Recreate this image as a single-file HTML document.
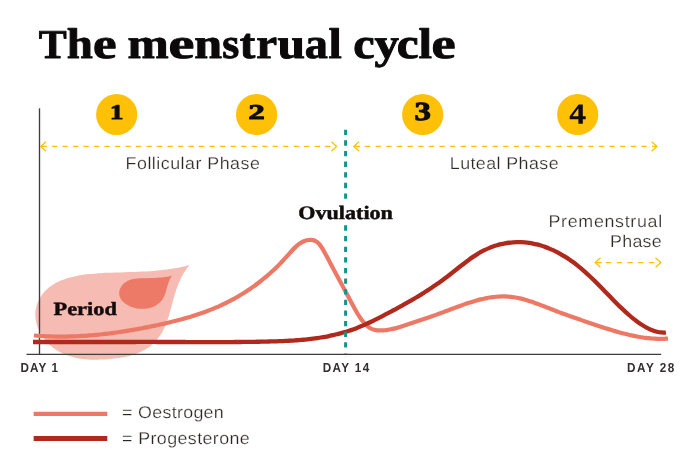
<!DOCTYPE html>
<html><head><meta charset="utf-8"><title>The menstrual cycle</title>
<style>
html,body{margin:0;padding:0;background:#fff;}
body{width:700px;height:456px;overflow:hidden;font-family:"Liberation Sans",sans-serif;}
svg{display:block;}
text{text-rendering:geometricPrecision;}
.serif{font-family:"Liberation Serif",serif;font-weight:bold;}
.sans{font-family:"Liberation Sans",sans-serif;}
</style></head><body>
<svg width="700" height="456" viewBox="0 0 700 456" style="will-change:transform;opacity:0.9999">
<rect width="700" height="456" fill="#fff"/>

<!-- title -->
<g class="serif" fill="#0b0909" stroke="#0b0909" stroke-width="0.9" stroke-linejoin="round" font-size="42.8">
<text transform="translate(38.66 57.6) scale(1.0215 1)" font-size="41">T</text>
<text transform="translate(66.85 57.6) scale(1.0957 1)">h</text>
<text transform="translate(93.06 57.6) scale(1.2406 1)">e</text>
<text transform="translate(127.43 57.6) scale(1.1565 1)">m</text>
<text transform="translate(168.54 57.6) scale(1.3623 1)">e</text>
<text transform="translate(194.22 57.6) scale(1.1692 1)">n</text>
<text transform="translate(222.33 57.6) scale(1.0230 1)">s</text>
<text transform="translate(239.63 57.6) scale(1.0877 1)">t</text>
<text transform="translate(256.28 57.6) scale(1.0986 1)">r</text>
<text transform="translate(277.41 57.6) scale(1.1604 1)">u</text>
<text transform="translate(304.72 57.6) scale(1.0815 1)">a</text>
<text transform="translate(328.54 57.6) scale(1.1182 1)">l</text>
<text transform="translate(353.27 57.6) scale(1.1257 1)">c</text>
<text transform="translate(374.50 57.6) scale(1.1395 1)">y</text>
<text transform="translate(396.65 57.6) scale(1.1486 1)">c</text>
<text transform="translate(418.53 57.6) scale(1.1364 1)">l</text>
<text transform="translate(431.53 57.6) scale(1.2696 1)">e</text>
</g>

<!-- period blobs -->
<path d="M189.50 265.00 C188.75 265.19 186.51 265.80 185.01 266.16 C183.52 266.53 182.02 266.87 180.52 267.19 C179.02 267.51 177.52 267.80 176.02 268.08 C174.52 268.36 173.01 268.61 171.51 268.85 C170.01 269.09 168.50 269.31 166.99 269.52 C165.49 269.72 163.98 269.91 162.47 270.08 C160.96 270.25 159.45 270.41 157.94 270.55 C156.43 270.70 154.92 270.83 153.40 270.95 C151.89 271.07 150.38 271.18 148.86 271.28 C147.34 271.38 145.83 271.47 144.31 271.55 C142.79 271.63 141.27 271.70 139.75 271.77 C138.23 271.84 136.71 271.90 135.19 271.96 C133.66 272.01 132.14 272.07 130.62 272.12 C129.09 272.17 127.57 272.21 126.04 272.26 C124.51 272.30 122.98 272.35 121.46 272.39 C119.93 272.44 118.40 272.49 116.87 272.53 C115.33 272.58 113.80 272.63 112.27 272.69 C110.74 272.74 109.20 272.80 107.67 272.87 C106.13 272.93 104.60 273.00 103.06 273.08 C101.52 273.16 99.98 273.25 98.45 273.34 C96.91 273.44 95.37 273.55 93.83 273.67 C92.29 273.79 90.76 273.92 89.22 274.08 C87.69 274.24 86.16 274.41 84.63 274.61 C83.11 274.82 81.59 275.04 80.08 275.29 C78.56 275.55 77.05 275.83 75.56 276.14 C74.06 276.46 72.57 276.81 71.09 277.20 C69.61 277.58 68.14 278.01 66.68 278.48 C65.22 278.95 63.77 279.46 62.35 280.02 C60.92 280.58 59.50 281.18 58.12 281.85 C56.73 282.51 55.37 283.22 54.06 284.00 C52.74 284.78 51.46 285.62 50.24 286.52 C49.01 287.43 47.83 288.41 46.72 289.45 C45.61 290.49 44.56 291.61 43.58 292.78 C42.60 293.95 41.69 295.19 40.86 296.47 C40.04 297.74 39.28 299.08 38.62 300.44 C37.96 301.80 37.38 303.21 36.91 304.64 C36.44 306.07 36.05 307.54 35.78 309.01 C35.51 310.48 35.35 311.98 35.29 313.47 C35.24 314.97 35.31 316.48 35.47 317.98 C35.63 319.48 35.91 320.98 36.26 322.47 C36.62 323.95 37.09 325.43 37.62 326.88 C38.16 328.32 38.79 329.76 39.48 331.15 C40.18 332.55 40.95 333.92 41.78 335.24 C42.61 336.56 43.52 337.85 44.47 339.08 C45.42 340.31 46.43 341.50 47.48 342.62 C48.52 343.74 49.62 344.80 50.75 345.80 C51.88 346.79 53.05 347.72 54.25 348.59 C55.45 349.46 56.69 350.27 57.95 351.02 C59.22 351.78 60.52 352.47 61.84 353.11 C63.17 353.75 64.52 354.33 65.90 354.87 C67.28 355.40 68.68 355.89 70.11 356.32 C71.53 356.76 72.98 357.15 74.45 357.49 C75.92 357.84 77.40 358.13 78.91 358.39 C80.41 358.65 81.93 358.87 83.46 359.05 C84.99 359.23 86.53 359.36 88.09 359.47 C89.64 359.58 91.21 359.65 92.78 359.69 C94.35 359.73 95.93 359.74 97.51 359.72 C99.09 359.70 100.68 359.65 102.26 359.57 C103.85 359.50 105.44 359.40 107.02 359.28 C108.61 359.16 110.19 359.02 111.77 358.86 C113.35 358.70 114.92 358.52 116.48 358.31 C118.05 358.10 119.60 357.87 121.14 357.60 C122.68 357.34 124.21 357.05 125.72 356.72 C127.22 356.39 128.72 356.03 130.19 355.63 C131.66 355.22 133.11 354.79 134.53 354.30 C135.95 353.82 137.35 353.30 138.72 352.73 C140.09 352.16 141.43 351.54 142.73 350.87 C144.04 350.20 145.31 349.48 146.55 348.71 C147.78 347.93 148.98 347.10 150.13 346.21 C151.29 345.32 152.41 344.37 153.48 343.36 C154.55 342.35 155.57 341.27 156.55 340.15 C157.53 339.02 158.46 337.84 159.34 336.61 C160.21 335.39 161.05 334.11 161.82 332.80 C162.60 331.49 163.32 330.13 163.99 328.75 C164.66 327.38 165.27 325.96 165.85 324.52 C166.43 323.09 166.95 321.63 167.46 320.15 C167.96 318.68 168.42 317.18 168.87 315.69 C169.32 314.19 169.74 312.68 170.16 311.18 C170.58 309.67 170.97 308.16 171.38 306.66 C171.79 305.16 172.18 303.67 172.59 302.18 C173.00 300.70 173.41 299.22 173.84 297.75 C174.26 296.28 174.69 294.82 175.15 293.37 C175.60 291.92 176.07 290.48 176.57 289.06 C177.06 287.63 177.58 286.22 178.13 284.82 C178.69 283.42 179.26 282.03 179.88 280.66 C180.50 279.29 181.16 277.93 181.86 276.59 C182.56 275.25 183.30 273.92 184.09 272.62 C184.89 271.31 185.73 270.02 186.63 268.75 C187.53 267.48 189.02 265.63 189.50 265.00Z" fill="#F6BBB3"/>
<path d="M172.00 275.80 C171.52 275.90 170.06 276.20 169.10 276.38 C168.14 276.55 167.19 276.70 166.25 276.85 C165.30 276.99 164.37 277.11 163.43 277.22 C162.50 277.33 161.57 277.43 160.64 277.52 C159.71 277.60 158.79 277.67 157.86 277.74 C156.94 277.80 156.01 277.86 155.08 277.90 C154.15 277.95 153.22 277.99 152.28 278.02 C151.35 278.06 150.41 278.09 149.46 278.11 C148.51 278.14 147.56 278.16 146.59 278.18 C145.63 278.19 144.65 278.21 143.67 278.23 C142.69 278.25 141.70 278.26 140.71 278.30 C139.72 278.34 138.72 278.38 137.73 278.46 C136.75 278.54 135.76 278.64 134.79 278.78 C133.83 278.92 132.87 279.10 131.94 279.33 C131.01 279.56 130.09 279.83 129.21 280.17 C128.33 280.52 127.47 280.92 126.66 281.39 C125.84 281.87 125.05 282.43 124.32 283.04 C123.60 283.66 122.91 284.35 122.30 285.08 C121.70 285.81 121.15 286.60 120.70 287.42 C120.25 288.23 119.87 289.10 119.61 289.96 C119.35 290.83 119.18 291.74 119.14 292.63 C119.10 293.52 119.18 294.43 119.36 295.30 C119.54 296.17 119.84 297.04 120.23 297.85 C120.61 298.67 121.10 299.44 121.65 300.17 C122.21 300.90 122.86 301.59 123.55 302.23 C124.25 302.87 125.02 303.47 125.83 304.02 C126.63 304.57 127.50 305.08 128.38 305.54 C129.26 306.00 130.19 306.41 131.12 306.78 C132.05 307.14 133.00 307.46 133.96 307.73 C134.92 307.99 135.90 308.22 136.88 308.39 C137.86 308.56 138.85 308.69 139.83 308.77 C140.82 308.85 141.81 308.88 142.78 308.86 C143.76 308.85 144.74 308.79 145.70 308.68 C146.66 308.57 147.62 308.41 148.55 308.21 C149.49 308.01 150.41 307.76 151.30 307.47 C152.19 307.18 153.07 306.84 153.91 306.45 C154.75 306.06 155.57 305.63 156.35 305.16 C157.13 304.68 157.87 304.16 158.58 303.59 C159.28 303.02 159.95 302.41 160.57 301.75 C161.19 301.09 161.76 300.39 162.28 299.64 C162.80 298.89 163.27 298.10 163.69 297.27 C164.11 296.44 164.48 295.56 164.82 294.66 C165.16 293.77 165.46 292.84 165.76 291.90 C166.05 290.96 166.31 290.00 166.58 289.04 C166.85 288.09 167.10 287.12 167.38 286.17 C167.66 285.21 167.93 284.26 168.24 283.33 C168.55 282.41 168.87 281.49 169.24 280.62 C169.61 279.74 170.00 278.88 170.46 278.08 C170.92 277.28 171.74 276.18 172.00 275.80Z" fill="#EC7A67"/>

<!-- axes -->
<path d="M39.5 108.3 V354.9" stroke="#403c3c" stroke-width="1.35" fill="none"/>
<path d="M26.5 354.3 H661.2" stroke="#403c3c" stroke-width="1.15" fill="none"/>

<!-- curves -->
<path d="M33.90 335.48 C34.40 335.52 35.90 335.65 36.90 335.72 C37.90 335.79 38.90 335.86 39.90 335.92 C40.90 335.99 41.90 336.05 42.90 336.10 C43.90 336.16 44.90 336.21 45.90 336.25 C46.90 336.30 47.90 336.34 48.90 336.37 C49.90 336.41 50.90 336.44 51.90 336.47 C52.90 336.49 53.90 336.52 54.90 336.53 C55.90 336.55 56.90 336.56 57.90 336.57 C58.90 336.58 59.90 336.59 60.90 336.59 C61.90 336.59 62.90 336.58 63.90 336.57 C64.90 336.57 65.90 336.55 66.90 336.54 C67.90 336.52 68.90 336.50 69.90 336.47 C70.90 336.45 71.90 336.42 72.90 336.38 C73.90 336.35 74.90 336.31 75.90 336.27 C76.90 336.23 77.90 336.18 78.90 336.13 C79.90 336.08 80.90 336.03 81.90 335.97 C82.90 335.91 83.90 335.85 84.90 335.78 C85.90 335.72 86.90 335.65 87.90 335.58 C88.90 335.50 89.90 335.43 90.90 335.35 C91.90 335.26 92.90 335.18 93.90 335.09 C94.90 335.00 95.90 334.91 96.90 334.82 C97.90 334.72 98.90 334.62 99.90 334.52 C100.90 334.42 101.90 334.31 102.90 334.20 C103.90 334.09 104.90 333.98 105.90 333.86 C106.90 333.74 107.90 333.62 108.90 333.50 C109.90 333.37 110.90 333.25 111.90 333.12 C112.90 332.99 113.90 332.85 114.90 332.72 C115.90 332.58 116.90 332.44 117.90 332.29 C118.90 332.15 119.90 332.00 120.90 331.85 C121.90 331.70 122.90 331.55 123.90 331.40 C124.90 331.24 125.90 331.08 126.90 330.92 C127.90 330.76 128.90 330.59 129.90 330.42 C130.90 330.25 131.90 330.08 132.90 329.91 C133.90 329.73 134.90 329.56 135.90 329.38 C136.90 329.20 137.90 329.02 138.90 328.83 C139.90 328.64 140.90 328.46 141.90 328.26 C142.90 328.07 143.90 327.88 144.90 327.68 C145.90 327.49 146.90 327.29 147.90 327.09 C148.90 326.88 149.90 326.68 150.90 326.47 C151.90 326.27 152.90 326.06 153.90 325.84 C154.90 325.63 155.90 325.42 156.90 325.20 C157.90 324.98 158.90 324.77 159.90 324.54 C160.90 324.32 161.90 324.10 162.90 323.87 C163.90 323.64 164.90 323.42 165.90 323.18 C166.90 322.95 167.90 322.72 168.90 322.48 C169.90 322.24 170.90 322.00 171.90 321.76 C172.90 321.52 173.90 321.27 174.90 321.02 C175.90 320.77 176.90 320.51 177.90 320.25 C178.90 319.99 179.90 319.73 180.90 319.46 C181.90 319.20 182.90 318.92 183.90 318.65 C184.90 318.37 185.90 318.09 186.90 317.80 C187.90 317.51 188.90 317.22 189.90 316.92 C190.90 316.62 191.90 316.31 192.90 316.00 C193.90 315.69 194.90 315.37 195.90 315.05 C196.90 314.73 197.90 314.40 198.90 314.06 C199.90 313.72 200.90 313.38 201.90 313.03 C202.90 312.68 203.90 312.32 204.90 311.95 C205.90 311.58 206.90 311.21 207.90 310.83 C208.90 310.45 209.90 310.06 210.90 309.66 C211.90 309.26 212.90 308.85 213.90 308.44 C214.90 308.02 215.90 307.60 216.90 307.16 C217.90 306.73 218.90 306.29 219.90 305.83 C220.90 305.38 221.90 304.92 222.90 304.45 C223.90 303.97 224.90 303.49 225.90 303.00 C226.90 302.51 227.90 302.00 228.90 301.49 C229.90 300.98 230.90 300.45 231.90 299.92 C232.90 299.38 233.90 298.83 234.90 298.28 C235.90 297.72 236.90 297.15 237.90 296.57 C238.90 295.99 239.90 295.39 240.90 294.79 C241.90 294.18 242.90 293.56 243.90 292.93 C244.90 292.30 245.90 291.66 246.90 291.00 C247.90 290.35 248.90 289.68 249.90 288.99 C250.90 288.31 251.90 287.62 252.90 286.91 C253.90 286.20 254.90 285.47 255.90 284.73 C256.90 284.00 257.90 283.24 258.90 282.48 C259.90 281.71 260.90 280.93 261.90 280.13 C262.90 279.34 263.90 278.53 264.90 277.70 C265.90 276.87 266.90 276.03 267.90 275.17 C268.90 274.31 269.90 273.43 270.90 272.54 C271.90 271.64 272.90 270.73 273.90 269.79 C274.90 268.85 275.90 267.90 276.90 266.92 C277.90 265.94 278.90 264.94 279.90 263.91 C280.90 262.89 281.90 261.84 282.90 260.76 C283.90 259.69 284.90 258.58 285.90 257.46 C286.90 256.35 287.90 255.18 288.90 254.06 C289.90 252.94 290.90 251.79 291.90 250.72 C292.90 249.65 293.90 248.59 294.90 247.63 C295.90 246.67 296.90 245.76 297.90 244.96 C298.90 244.16 299.90 243.44 300.90 242.83 C301.90 242.21 302.90 241.68 303.90 241.26 C304.90 240.83 305.90 240.49 306.90 240.26 C307.90 240.03 308.90 239.90 309.90 239.88 C310.90 239.86 311.90 239.90 312.90 240.14 C313.90 240.38 314.90 240.72 315.90 241.32 C316.90 241.93 317.90 242.69 318.90 243.76 C319.90 244.84 320.90 246.24 321.90 247.77 C322.90 249.29 323.90 251.11 324.90 252.90 C325.90 254.69 326.90 256.62 327.90 258.51 C328.90 260.40 329.90 262.33 330.90 264.22 C331.90 266.12 332.90 268.00 333.90 269.87 C334.90 271.74 335.90 273.61 336.90 275.47 C337.90 277.33 338.90 279.19 339.90 281.05 C340.90 282.91 341.90 284.77 342.90 286.63 C343.90 288.50 344.90 290.36 345.90 292.23 C346.90 294.10 347.90 295.98 348.90 297.85 C349.90 299.73 350.90 301.62 351.90 303.49 C352.90 305.36 353.90 307.27 354.90 309.07 C355.90 310.87 356.90 312.64 357.90 314.27 C358.90 315.89 359.90 317.43 360.90 318.83 C361.90 320.22 362.90 321.51 363.90 322.66 C364.90 323.81 365.90 324.84 366.90 325.72 C367.90 326.61 368.90 327.36 369.90 327.97 C370.90 328.58 371.90 329.02 372.90 329.39 C373.90 329.75 374.90 329.97 375.90 330.14 C376.90 330.32 377.90 330.38 378.90 330.43 C379.90 330.47 380.90 330.46 381.90 330.42 C382.90 330.39 383.90 330.31 384.90 330.22 C385.90 330.12 386.90 329.99 387.90 329.83 C388.90 329.68 389.90 329.50 390.90 329.30 C391.90 329.10 392.90 328.87 393.90 328.63 C394.90 328.39 395.90 328.13 396.90 327.86 C397.90 327.58 398.90 327.29 399.90 326.99 C400.90 326.69 401.90 326.38 402.90 326.06 C403.90 325.74 404.90 325.42 405.90 325.09 C406.90 324.76 407.90 324.43 408.90 324.10 C409.90 323.76 410.90 323.43 411.90 323.10 C412.90 322.76 413.90 322.43 414.90 322.10 C415.90 321.76 416.90 321.43 417.90 321.09 C418.90 320.75 419.90 320.42 420.90 320.08 C421.90 319.74 422.90 319.40 423.90 319.06 C424.90 318.72 425.90 318.37 426.90 318.03 C427.90 317.68 428.90 317.33 429.90 316.98 C430.90 316.63 431.90 316.28 432.90 315.93 C433.90 315.57 434.90 315.22 435.90 314.86 C436.90 314.50 437.90 314.14 438.90 313.77 C439.90 313.41 440.90 313.04 441.90 312.67 C442.90 312.30 443.90 311.92 444.90 311.55 C445.90 311.17 446.90 310.79 447.90 310.42 C448.90 310.04 449.90 309.66 450.90 309.28 C451.90 308.91 452.90 308.53 453.90 308.15 C454.90 307.78 455.90 307.41 456.90 307.04 C457.90 306.67 458.90 306.30 459.90 305.94 C460.90 305.58 461.90 305.22 462.90 304.87 C463.90 304.52 464.90 304.17 465.90 303.83 C466.90 303.49 467.90 303.16 468.90 302.83 C469.90 302.51 470.90 302.19 471.90 301.88 C472.90 301.57 473.90 301.27 474.90 300.98 C475.90 300.69 476.90 300.41 477.90 300.15 C478.90 299.88 479.90 299.62 480.90 299.38 C481.90 299.14 482.90 298.90 483.90 298.69 C484.90 298.47 485.90 298.26 486.90 298.07 C487.90 297.88 488.90 297.71 489.90 297.55 C490.90 297.39 491.90 297.24 492.90 297.12 C493.90 296.99 494.90 296.88 495.90 296.78 C496.90 296.69 497.90 296.61 498.90 296.56 C499.90 296.50 500.90 296.46 501.90 296.44 C502.90 296.42 503.90 296.43 504.90 296.45 C505.90 296.47 506.90 296.51 507.90 296.58 C508.90 296.64 509.90 296.73 510.90 296.84 C511.90 296.95 512.90 297.08 513.90 297.23 C514.90 297.39 515.90 297.56 516.90 297.76 C517.90 297.95 518.90 298.16 519.90 298.39 C520.90 298.62 521.90 298.87 522.90 299.13 C523.90 299.39 524.90 299.67 525.90 299.96 C526.90 300.26 527.90 300.56 528.90 300.88 C529.90 301.20 530.90 301.53 531.90 301.86 C532.90 302.20 533.90 302.55 534.90 302.91 C535.90 303.26 536.90 303.63 537.90 304.00 C538.90 304.37 539.90 304.75 540.90 305.13 C541.90 305.51 542.90 305.90 543.90 306.29 C544.90 306.68 545.90 307.07 546.90 307.46 C547.90 307.85 548.90 308.25 549.90 308.64 C550.90 309.03 551.90 309.42 552.90 309.81 C553.90 310.20 554.90 310.58 555.90 310.96 C556.90 311.34 557.90 311.72 558.90 312.10 C559.90 312.47 560.90 312.84 561.90 313.21 C562.90 313.58 563.90 313.95 564.90 314.31 C565.90 314.67 566.90 315.03 567.90 315.39 C568.90 315.75 569.90 316.11 570.90 316.46 C571.90 316.81 572.90 317.17 573.90 317.52 C574.90 317.87 575.90 318.21 576.90 318.56 C577.90 318.91 578.90 319.25 579.90 319.60 C580.90 319.94 581.90 320.29 582.90 320.63 C583.90 320.97 584.90 321.31 585.90 321.65 C586.90 321.99 587.90 322.33 588.90 322.67 C589.90 323.01 590.90 323.35 591.90 323.69 C592.90 324.03 593.90 324.36 594.90 324.70 C595.90 325.04 596.90 325.37 597.90 325.70 C598.90 326.04 599.90 326.37 600.90 326.70 C601.90 327.03 602.90 327.35 603.90 327.67 C604.90 328.00 605.90 328.32 606.90 328.63 C607.90 328.95 608.90 329.26 609.90 329.57 C610.90 329.88 611.90 330.18 612.90 330.48 C613.90 330.78 614.90 331.08 615.90 331.37 C616.90 331.66 617.90 331.94 618.90 332.22 C619.90 332.50 620.90 332.77 621.90 333.03 C622.90 333.30 623.90 333.56 624.90 333.81 C625.90 334.06 626.90 334.31 627.90 334.55 C628.90 334.78 629.90 335.01 630.90 335.23 C631.90 335.45 632.90 335.67 633.90 335.87 C634.90 336.08 635.90 336.27 636.90 336.46 C637.90 336.65 638.90 336.82 639.90 336.99 C640.90 337.16 641.90 337.31 642.90 337.46 C643.90 337.61 644.90 337.74 645.90 337.87 C646.90 337.99 647.90 338.11 648.90 338.21 C649.90 338.31 650.90 338.40 651.90 338.48 C652.90 338.56 653.90 338.62 654.90 338.68 C655.90 338.73 656.90 338.77 657.90 338.80 C658.90 338.83 659.90 338.84 660.90 338.84 C661.90 338.84 662.90 338.83 663.90 338.80 C664.90 338.77 666.22 338.70 666.90 338.67 C667.58 338.63 667.82 338.61 668.00 338.60" fill="none" stroke="#EC7966" stroke-width="4.2" stroke-linejoin="round"/>
<path d="M33.00 341.98 C33.67 341.98 35.67 341.98 37.00 341.99 C38.33 341.99 39.67 341.99 41.00 342.00 C42.33 342.00 43.67 342.00 45.00 342.00 C46.33 342.00 47.67 342.01 49.00 342.01 C50.33 342.01 51.67 342.01 53.00 342.01 C54.33 342.01 55.67 342.01 57.00 342.02 C58.33 342.02 59.67 342.02 61.00 342.02 C62.33 342.02 63.67 342.02 65.00 342.02 C66.33 342.02 67.67 342.02 69.00 342.02 C70.33 342.02 71.67 342.02 73.00 342.02 C74.33 342.02 75.67 342.02 77.00 342.02 C78.33 342.02 79.67 342.02 81.00 342.02 C82.33 342.02 83.67 342.01 85.00 342.01 C86.33 342.01 87.67 342.01 89.00 342.01 C90.33 342.01 91.67 342.01 93.00 342.01 C94.33 342.01 95.67 342.01 97.00 342.01 C98.33 342.00 99.67 342.00 101.00 342.00 C102.33 342.00 103.67 342.00 105.00 342.00 C106.33 342.00 107.67 342.00 109.00 341.99 C110.33 341.99 111.67 341.99 113.00 341.99 C114.33 341.99 115.67 341.99 117.00 341.99 C118.33 341.99 119.67 341.99 121.00 341.98 C122.33 341.98 123.67 341.98 125.00 341.98 C126.33 341.98 127.67 341.98 129.00 341.98 C130.33 341.98 131.67 341.98 133.00 341.98 C134.33 341.98 135.67 341.97 137.00 341.97 C138.33 341.97 139.67 341.97 141.00 341.97 C142.33 341.97 143.67 341.97 145.00 341.97 C146.33 341.97 147.67 341.97 149.00 341.97 C150.33 341.97 151.67 341.97 153.00 341.97 C154.33 341.97 155.67 341.97 157.00 341.98 C158.33 341.98 159.67 341.98 161.00 341.98 C162.33 341.98 163.67 341.98 165.00 341.98 C166.33 341.98 167.67 341.99 169.00 341.99 C170.33 341.99 171.67 341.99 173.00 341.99 C174.33 342.00 175.67 342.00 177.00 342.00 C178.33 342.00 179.67 342.01 181.00 342.01 C182.33 342.01 183.67 342.02 185.00 342.02 C186.33 342.02 187.67 342.03 189.00 342.03 C190.33 342.03 191.67 342.04 193.00 342.04 C194.33 342.05 195.67 342.05 197.00 342.05 C198.33 342.06 199.67 342.06 201.00 342.06 C202.33 342.07 203.67 342.07 205.00 342.07 C206.33 342.07 207.67 342.07 209.00 342.08 C210.33 342.08 211.67 342.08 213.00 342.08 C214.33 342.08 215.67 342.08 217.00 342.08 C218.33 342.08 219.67 342.08 221.00 342.08 C222.33 342.07 223.67 342.07 225.00 342.07 C226.33 342.06 227.67 342.06 229.00 342.05 C230.33 342.05 231.67 342.04 233.00 342.03 C234.33 342.03 235.67 342.02 237.00 342.01 C238.33 342.00 239.67 341.99 241.00 341.98 C242.33 341.96 243.67 341.95 245.00 341.94 C246.33 341.92 247.67 341.91 249.00 341.89 C250.33 341.87 251.67 341.85 253.00 341.83 C254.33 341.81 255.67 341.79 257.00 341.77 C258.33 341.74 259.67 341.72 261.00 341.69 C262.33 341.67 263.67 341.64 265.00 341.61 C266.33 341.58 267.67 341.55 269.00 341.51 C270.33 341.48 271.67 341.44 273.00 341.40 C274.33 341.37 275.67 341.33 277.00 341.28 C278.33 341.24 279.67 341.19 281.00 341.14 C282.33 341.09 283.67 341.03 285.00 340.97 C286.33 340.91 287.67 340.84 289.00 340.77 C290.33 340.70 291.67 340.62 293.00 340.54 C294.33 340.45 295.67 340.36 297.00 340.26 C298.33 340.17 299.67 340.06 301.00 339.94 C302.33 339.83 303.67 339.71 305.00 339.58 C306.33 339.44 307.67 339.30 309.00 339.15 C310.33 339.00 311.67 338.84 313.00 338.67 C314.33 338.49 315.67 338.31 317.00 338.12 C318.33 337.92 319.67 337.72 321.00 337.50 C322.33 337.28 323.67 337.05 325.00 336.80 C326.33 336.56 327.67 336.30 329.00 336.03 C330.33 335.75 331.67 335.47 333.00 335.17 C334.33 334.86 335.67 334.55 337.00 334.22 C338.33 333.88 339.67 333.54 341.00 333.17 C342.33 332.81 343.67 332.43 345.00 332.03 C346.33 331.63 347.67 331.21 349.00 330.78 C350.33 330.34 351.67 329.89 353.00 329.42 C354.33 328.94 355.67 328.45 357.00 327.94 C358.33 327.43 359.67 326.90 361.00 326.35 C362.33 325.79 363.67 325.22 365.00 324.63 C366.33 324.03 367.67 323.42 369.00 322.79 C370.33 322.16 371.67 321.52 373.00 320.86 C374.33 320.20 375.67 319.53 377.00 318.86 C378.33 318.18 379.67 317.49 381.00 316.80 C382.33 316.11 383.67 315.41 385.00 314.71 C386.33 314.01 387.67 313.31 389.00 312.61 C390.33 311.91 391.67 311.20 393.00 310.49 C394.33 309.78 395.67 309.07 397.00 308.35 C398.33 307.64 399.67 306.91 401.00 306.18 C402.33 305.45 403.67 304.72 405.00 303.97 C406.33 303.23 407.67 302.47 409.00 301.71 C410.33 300.95 411.67 300.17 413.00 299.39 C414.33 298.61 415.67 297.81 417.00 297.01 C418.33 296.20 419.67 295.39 421.00 294.56 C422.33 293.73 423.67 292.89 425.00 292.04 C426.33 291.18 427.67 290.32 429.00 289.44 C430.33 288.56 431.67 287.67 433.00 286.77 C434.33 285.86 435.67 284.95 437.00 284.01 C438.33 283.08 439.67 282.13 441.00 281.17 C442.33 280.21 443.67 279.23 445.00 278.24 C446.33 277.25 447.67 276.24 449.00 275.21 C450.33 274.19 451.67 273.14 453.00 272.10 C454.33 271.05 455.67 269.99 457.00 268.94 C458.33 267.88 459.67 266.82 461.00 265.78 C462.33 264.74 463.67 263.70 465.00 262.69 C466.33 261.68 467.67 260.68 469.00 259.71 C470.33 258.75 471.67 257.80 473.00 256.90 C474.33 256.00 475.67 255.13 477.00 254.31 C478.33 253.49 479.67 252.72 481.00 251.98 C482.33 251.25 483.67 250.57 485.00 249.92 C486.33 249.28 487.67 248.68 489.00 248.12 C490.33 247.56 491.67 247.05 493.00 246.57 C494.33 246.10 495.67 245.66 497.00 245.27 C498.33 244.87 499.67 244.52 501.00 244.20 C502.33 243.88 503.67 243.60 505.00 243.36 C506.33 243.12 507.67 242.92 509.00 242.75 C510.33 242.58 511.67 242.45 513.00 242.35 C514.33 242.25 515.67 242.19 517.00 242.17 C518.33 242.14 519.67 242.15 521.00 242.20 C522.33 242.24 523.67 242.33 525.00 242.44 C526.33 242.56 527.67 242.71 529.00 242.90 C530.33 243.09 531.67 243.31 533.00 243.57 C534.33 243.83 535.67 244.13 537.00 244.46 C538.33 244.79 539.67 245.16 541.00 245.56 C542.33 245.96 543.67 246.40 545.00 246.87 C546.33 247.35 547.67 247.86 549.00 248.40 C550.33 248.95 551.67 249.53 553.00 250.15 C554.33 250.77 555.67 251.42 557.00 252.11 C558.33 252.79 559.67 253.52 561.00 254.28 C562.33 255.04 563.67 255.84 565.00 256.67 C566.33 257.50 567.67 258.37 569.00 259.27 C570.33 260.17 571.67 261.11 573.00 262.09 C574.33 263.06 575.67 264.07 577.00 265.12 C578.33 266.17 579.67 267.25 581.00 268.37 C582.33 269.48 583.67 270.64 585.00 271.83 C586.33 273.02 587.67 274.24 589.00 275.49 C590.33 276.75 591.67 278.03 593.00 279.33 C594.33 280.63 595.67 281.96 597.00 283.30 C598.33 284.63 599.67 285.99 601.00 287.35 C602.33 288.71 603.67 290.09 605.00 291.46 C606.33 292.83 607.67 294.21 609.00 295.58 C610.33 296.95 611.67 298.32 613.00 299.67 C614.33 301.03 615.67 302.38 617.00 303.70 C618.33 305.03 619.67 306.34 621.00 307.62 C622.33 308.91 623.67 310.17 625.00 311.40 C626.33 312.63 627.67 313.83 629.00 315.00 C630.33 316.16 631.67 317.29 633.00 318.37 C634.33 319.45 635.67 320.49 637.00 321.48 C638.33 322.46 639.67 323.41 641.00 324.29 C642.33 325.16 643.67 325.99 645.00 326.75 C646.33 327.51 647.67 328.22 649.00 328.84 C650.33 329.47 651.67 330.03 653.00 330.51 C654.33 330.99 655.67 331.40 657.00 331.72 C658.33 332.04 659.67 332.29 661.00 332.44 C662.33 332.59 664.18 332.59 665.00 332.62 C665.82 332.64 665.75 332.59 665.90 332.58" fill="none" stroke="#AF2A1D" stroke-width="4.3" stroke-linejoin="round"/>

<!-- ovulation line -->
<path d="M345.6 129.7 V353.5" stroke="#12958A" stroke-width="3" stroke-dasharray="5.3 5.33" fill="none"/>
<rect x="340" y="199" width="12" height="25" fill="#fff"/>
<text class="serif" x="298.3" y="218.6" font-size="19" fill="#120c0c" stroke="#120c0c" stroke-width="0.45" textLength="94.6" lengthAdjust="spacingAndGlyphs">Ovulation</text>
<text class="serif" x="53.6" y="314.6" font-size="18.6" fill="#120c0c" stroke="#120c0c" stroke-width="0.45" textLength="63.2" lengthAdjust="spacingAndGlyphs">Period</text>

<!-- circles -->
<g fill="#FFC107">
<circle cx="116.7" cy="114.5" r="20.6"/>
<circle cx="256.6" cy="114.5" r="20.6"/>
<circle cx="422.7" cy="114.5" r="20.6"/>
<circle cx="577.7" cy="114.5" r="20.6"/>
</g>
<g class="serif" fill="#0d0b0b" stroke="#0d0b0b" stroke-width="1.0" stroke-linejoin="round">
<text x="110.1" y="118.6" font-size="21" textLength="13.4" lengthAdjust="spacingAndGlyphs">1</text>
<text x="248.4" y="118.6" font-size="21" textLength="16.2" lengthAdjust="spacingAndGlyphs">2</text>
<text x="414.4" y="120.2" font-size="26.2" textLength="16.4" lengthAdjust="spacingAndGlyphs">3</text>
</g>
<path d="M582.8 104.6 L578.6 104.6 L569.7 116.2 L569.7 119.2 L578.4 119.2 L578.4 123.8 L582.8 123.8 L582.8 119.2 L585.7 119.2 L585.7 116.2 L582.8 116.2 Z M578.4 116.2 L572.6 116.2 L578.4 108.2 Z" fill="#0d0b0b" fill-rule="evenodd"/>

<!-- arrows -->
<g fill="none" stroke="#FFC107" stroke-width="1.3" stroke-linecap="butt" stroke-linejoin="round"><path d="M45.599999999999994 142.1 L40.699999999999996 146.4 L45.599999999999994 150.70000000000002" stroke-linecap="round"/><path d="M331.7 142.1 L336.6 146.4 L331.7 150.70000000000002" stroke-linecap="round"/><path d="M40.3 146.4 H46.9"/><path d="M51.9 146.4 H337" stroke-dasharray="5.3 5.21"/></g>
<g fill="none" stroke="#FFC107" stroke-width="1.3" stroke-linecap="butt" stroke-linejoin="round"><path d="M358.7 142.1 L353.79999999999995 146.4 L358.7 150.70000000000002" stroke-linecap="round"/><path d="M652.0 142.1 L656.9 146.4 L652.0 150.70000000000002" stroke-linecap="round"/><path d="M353.4 146.4 H360.0"/><path d="M365.0 146.4 H657.3" stroke-dasharray="5.3 5.33"/></g>
<g fill="none" stroke="#FFC107" stroke-width="1.3" stroke-linecap="butt" stroke-linejoin="round"><path d="M600.0999999999999 258.3 L595.1999999999999 262.6 L600.0999999999999 266.90000000000003" stroke-linecap="round"/><path d="M655.9000000000001 258.3 L660.8000000000001 262.6 L655.9000000000001 266.90000000000003" stroke-linecap="round"/><path d="M594.8 262.6 H601.4"/><path d="M606.0 262.6 H661.2" stroke-dasharray="5.3 5.42"/></g>

<!-- labels -->
<g class="sans" fill="#2b2624" font-size="17" stroke="#fff" stroke-width="0.25">
<text transform="translate(125.6 169.2) scale(1.05 1)" textLength="127.90" lengthAdjust="spacing">Follicular Phase</text>
<text transform="translate(449.8 169.3) scale(1.05 1)" textLength="103.62" lengthAdjust="spacing">Luteal Phase</text>
<text transform="translate(548.5 227.0) scale(1.05 1)" textLength="108.29" lengthAdjust="spacing">Premenstrual</text>
<text transform="translate(610.1 246.6) scale(1.05 1)" textLength="49.14" lengthAdjust="spacing">Phase</text>
<text transform="translate(122 418.2) scale(1.05 1)" textLength="96.95" lengthAdjust="spacing">= Oestrogen</text>
<text transform="translate(122 443.6) scale(1.05 1)" textLength="121.71" lengthAdjust="spacing">= Progesterone</text>
</g>
<g class="sans" fill="#332e2e" font-size="13" font-weight="bold" letter-spacing="1.45">
<text transform="translate(20.4 371.9) scale(0.9 1)" letter-spacing="1.25">DAY 1</text>
<text transform="translate(322.8 371.9) scale(0.9 1)" letter-spacing="1.5">DAY 14</text>
<text transform="translate(627.1 371.9) scale(0.9 1)" letter-spacing="1.65">DAY 28</text>
</g>

<!-- legend -->
<path d="M33.65 413.9 H107.3" stroke="#EC7966" stroke-width="4.3" fill="none"/>
<path d="M33.65 438.5 H107.3" stroke="#AF2A1D" stroke-width="4.8" fill="none"/>
</svg>
</body></html>
